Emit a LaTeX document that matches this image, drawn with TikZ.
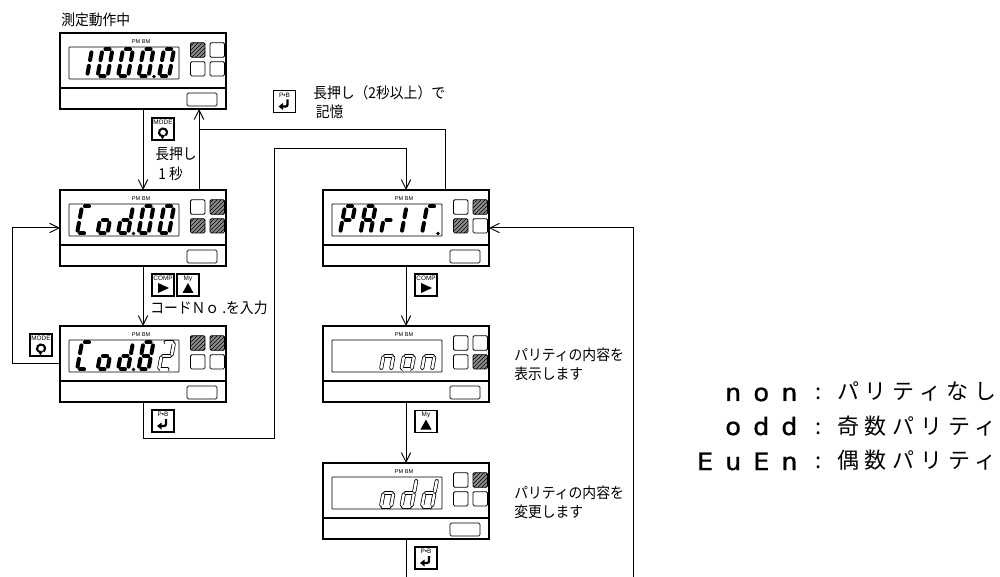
\documentclass[tikz,border=0pt]{standalone}
\usepackage{fontspec}
\setmainfont{Liberation Sans}
\newfontfamily\jpfont[FakeStretch=0.92]{Noto Sans CJK JP}
\newfontfamily\legendfont[LetterSpace=26]{Noto Sans CJK JP}
\newfontfamily\segfont[FakeStretch=1.15,LetterSpace=48,FakeBold=0.6]{DejaVu Sans Mono}
\usetikzlibrary{arrows.meta,patterns}
% segment lists of the readout glyphs
\def\glyphzero{tl/tr,tr/mr,mr/br,br/bl,bl/ml,ml/tl}
\def\glyphone{tr/mr,mr/br}
\def\glyphtwo{tl/tr,tr/mr,mr/ml,ml/bl,bl/br}
\def\glypheight{tl/tr,tr/mr,mr/br,br/bl,bl/ml,ml/tl,ml/mr}
\def\glyphcee{tl/tr,tl/ml,ml/bl,bl/br}
\def\glyphoh{ml/mr,mr/br,br/bl,bl/ml}
\def\glyphdee{tr/mr,mr/br,br/bl,bl/ml,ml/mr}
\def\glyphen{ml/mr,mr/br,ml/bl}
\def\glyphpee{tl/tr,tr/mr,mr/ml,ml/tl,ml/bl}
\def\glyphay{tl/tr,tr/mr,mr/br,mr/ml,ml/tl,ml/bl}
\def\glyphar{ml/mr,ml/bl}
\def\glyphbar{tl/ml,ml/bl}
\def\glyphtee{tl/tr,tl/ml,ml/bl}
\tikzset{
  segon/.style={line width=3pt,line cap=round,shorten <=2.2pt,shorten >=2.2pt},
  segrim/.style={line width=3pt,line cap=round,shorten <=1.2pt,shorten >=1.2pt},
  seghole/.style={white,line width=1.9pt,line cap=round,shorten <=1.2pt,shorten >=1.2pt},
  ledoff/.style={draw,line width=0.6pt,rounded corners=1pt},
  ledon/.style={draw,line width=0.6pt,rounded corners=1pt,fill=black!45,postaction={pattern=north east lines}},
  meterbody/.style={draw,line width=1pt,minimum width=124.5pt,minimum height=57pt,inner sep=0pt,outer sep=0pt},
  keyframe/.style={draw,line width=0.8pt,minimum size=16.5pt,inner sep=0pt,outer sep=0pt},
  keytext/.style={font=\fontsize{4.8}{6}\selectfont,inner sep=0pt},
  pmtext/.style={font=\fontsize{4.2}{5}\selectfont,inner sep=0pt},
  flow/.style={draw,line width=0.75pt,-{Straight Barb[length=7pt,width=7pt]}},
  link/.style={draw,line width=0.75pt},
  jptext/.style={font=\jpfont\fontsize{11.25}{14.25}\selectfont,anchor=west,align=left,inner sep=0pt},
  segtext/.style={font=\segfont\fontsize{18}{18}\selectfont,anchor=base east,inner sep=0pt},
  legendtext/.style={font=\legendfont\fontsize{16.5}{18}\selectfont,anchor=base west,inner sep=0pt},
  pics/segdigit/.style 2 args={code={
    \coordinate (bl) at (0,0); \coordinate (br) at (10,0);
    \coordinate (ml) at (2.5,-13.5); \coordinate (mr) at (12.5,-13.5);
    \coordinate (tl) at (5,-27); \coordinate (tr) at (15,-27);
    \edef\seglist{#1}
    \foreach \p/\q in \seglist \draw[#2] (\p) -- (\q);
  }},
  pics/meter/.style n args={4}{code={
    \node[meterbody] (-body) at (0,0) {};
    \draw[line width=0.6pt,rounded corners=0.5pt] (-74,-24) rectangle (36,8);
    \draw[line width=1pt] (-83,17) -- (83,17);
    \draw[line width=0.6pt,rounded corners=1pt] (44,22) rectangle (74,35);
    \node[pmtext] (-pm) at (-2,-29.5) {PM BM};
    \path[#1] (47.5,-28.3) rectangle (62,-13.7);
    \path[#2] (67,-28.3) rectangle (81.5,-13.7);
    \path[#3] (47.5,-9.3) rectangle (62,5);
    \path[#4] (67,-9.3) rectangle (81.5,5);
  }},
  pics/modekey/.style={code={
    \node[keyframe] (-box) at (0,0) {};
    \node[keytext] (-txt) at (0,-6.5) {MODE};
    \draw[line width=1.6pt] (0,3.5) ++(125:4) arc[start angle=125,end angle=410,radius=4];
    \fill (-3.5,5.5) -- (2,6) -- (-0.5,10.5) -- cycle;
  }},
  pics/compkey/.style={code={
    \node[keyframe] (-box) at (0,0) {};
    \node[keytext] (-txt) at (0,-6.5) {COMP};
    \fill (-5,-2) -- (6,3) -- (-5,8) -- cycle;
  }},
  pics/mykey/.style={code={
    \node[keyframe] (-box) at (0,0) {};
    \node[keytext] (-txt) at (0,-6.5) {My};
    \fill (-5.5,8) -- (0,-2) -- (5.5,8) -- cycle;
  }},
  pics/storekey/.style={code={
    \node[keyframe] (-box) at (0,0) {};
    \node[keytext] (-txt) at (0,-6.5) {P•B};
    \draw[line width=1.7pt,rounded corners=1.5pt] (3,-2) -- (3,5) -- (-2,5);
    \fill (-6,5) -- (-1.5,1.5) -- (-1.5,8.5) -- cycle;
  }}
}
% cell number/glyph pairs of one readout
\newcommand{\readout}[3]{\foreach \c/\g in {#2}
  \pic at ([shift={({20.5*\c-86.5},5.5)}]#1-body.center) {segdigit={\g}{#3}};}
\newcommand{\readdot}[2]{\fill ([shift={(#2,5.5)}]#1-body.center) circle (1.8);}
\begin{document}
\begin{tikzpicture}[x=0.75pt,y=-0.75pt]
  \useasboundingbox (0,0) rectangle (1000,577);
  % meters
  \pic (m1) at (143,71) {meter={ledon}{ledoff}{ledoff}{ledoff}};
  \pic (m2) at (143,228) {meter={ledoff}{ledon}{ledon}{ledon}};
  \pic (m3) at (143,364) {meter={ledon}{ledon}{ledoff}{ledoff}};
  \pic (m4) at (406,228) {meter={ledoff}{ledon}{ledon}{ledoff}};
  \pic (m5) at (406,364) {meter={ledoff}{ledoff}{ledoff}{ledon}};
  \pic (m6) at (406,501) {meter={ledoff}{ledon}{ledoff}{ledoff}};
  % readouts
  \readout{m1}{1/\glyphone,2/\glyphzero,3/\glyphzero,4/\glyphzero,5/\glyphzero}{segon}
  \readdot{m1}{11}
  \readout{m2}{1/\glyphcee,2/\glyphoh,3/\glyphdee,4/\glyphzero,5/\glyphzero}{segon}
  \readdot{m2}{-9.5}
  \readout{m3}{1/\glyphcee,2/\glyphoh,3/\glyphdee,4/\glypheight}{segon}
  \readout{m3}{5/\glyphtwo}{segrim}
  \readout{m3}{5/\glyphtwo}{seghole}
  \readdot{m3}{-9.5}
  \readout{m4}{1/\glyphpee,2/\glyphay,3/\glyphar,4/\glyphbar,5/\glyphtee}{segon}
  \readdot{m4}{32}
  \readout{m5}{3/\glyphen,4/\glyphoh,5/\glyphen}{segrim}
  \readout{m5}{3/\glyphen,4/\glyphoh,5/\glyphen}{seghole}
  \readout{m6}{3/\glyphoh,4/\glyphdee,5/\glyphdee}{segrim}
  \readout{m6}{3/\glyphoh,4/\glyphdee,5/\glyphdee}{seghole}
  % free ends and corners
  \coordinate (upjoin) at (199,130);
  \coordinate (sidecorner) at (12,228);
  \coordinate (loopa) at (274,438);
  \coordinate (loopb) at (274,149);
  \coordinate (exitdown) at (406,577);
  \coordinate (backup) at (633,577);
  % connectors
  \draw[flow] (m1-body.south) -- (m2-body.north);
  \draw[flow] ([shift={(56,0)}]m2-body.north) -- ([shift={(56,0)}]m1-body.south);
  \draw[link] ([shift={(39,0)}]m4-body.north) |- (upjoin);
  \draw[flow] (m2-body.south) -- (m3-body.north);
  \draw[flow] (m3-body.west) -| (sidecorner) -- (m2-body.west);
  \draw[flow] (m3-body.south) |- (loopa) -- (loopb) -| (m4-body.north);
  \draw[flow] (m4-body.south) -- (m5-body.north);
  \draw[flow] (m5-body.south) -- (m6-body.north);
  \draw[link] (m6-body.south) -- (exitdown);
  \draw[flow] (backup) |- (m4-body.east);
  % keys
  \pic (k1) at (163,129) {modekey};
  \pic (k2) at (163,285) {compkey};
  \pic (k3) at (188,285) {mykey};
  \pic (k4) at (41,345) {modekey};
  \pic (k5) at (163,421) {storekey};
  \pic (k6) at (284.5,101.5) {storekey};
  \pic (k7) at (426,285) {compkey};
  \pic (k8) at (426,421.5) {mykey};
  \pic (k9) at (426,558) {storekey};
  % labels
  \node[jptext] (running) at (61,20) {測定動作中};
  \node[jptext] (hold) at (155,154) {長押し};
  \node[jptext] (onesec) at (158,174) {1 秒};
  \node[jptext] (entercode) at (150,308) {コードＮｏ .を入力};
  \node[jptext] (holdstore) at (313,102) {長押し（2秒以上）で\\\hspace{2pt}記憶};
  \node[jptext] (showparity) at (514,364) {パリティの内容を\\表示します};
  \node[jptext] (editparity) at (514,502) {パリティの内容を\\変更します};
  % legend
  \node[segtext] (non) at (798,401) {non};
  \node[segtext] (odd) at (798,435) {odd};
  \node[segtext] (even) at (798,470) {EuEn};
  \node[legendtext] (noncolon) at (815,400) {:};
  \node[legendtext] (oddcolon) at (815,434) {:};
  \node[legendtext] (evencolon) at (815,468) {:};
  \node[legendtext] (nonlabel) at (837,400) {パリティなし};
  \node[legendtext] (oddlabel) at (837,434) {奇数パリティ};
  \node[legendtext] (evenlabel) at (837,468) {偶数パリティ};
\end{tikzpicture}
\end{document}
